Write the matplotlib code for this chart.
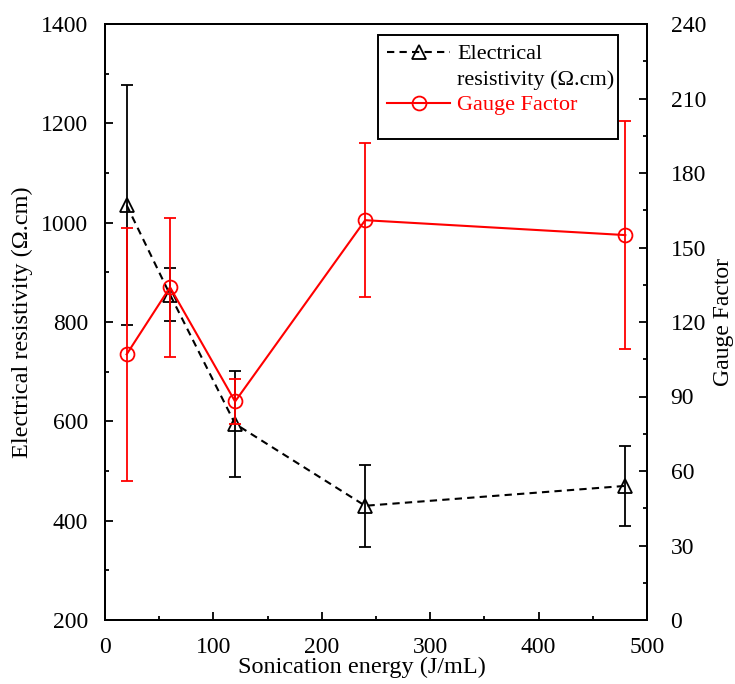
import matplotlib.pyplot as plt
from matplotlib.lines import Line2D
from matplotlib.patches import Rectangle
from matplotlib.ticker import MultipleLocator

plt.rcParams['font.family'] = ['Liberation Serif', 'DejaVu Serif']

# sonication energy (J/mL)
energy = [20, 60, 120, 240, 480]

# electrical resistivity (ohm.cm) with std dev
resistivity = [1035, 855, 595, 430, 470]
resistivity_err = [242, 53, 107, 83, 80]

# gauge factor with std dev
gauge = [107, 134, 88, 161, 155]
gauge_err = [51, 28, 9, 31, 46]

W, H = 735, 684
fig = plt.figure(figsize=(W / 100, H / 100), dpi=100)
ax = fig.add_axes([105 / W, 1 - 620 / H, 542 / W, 596 / H])
ax2 = ax.twinx()

res = ax.errorbar(energy, resistivity, yerr=resistivity_err, color='black',
                  linestyle=(0, (3.5, 2.5)), linewidth=1.5, marker='^',
                  markersize=10, markerfacecolor='none', markeredgewidth=1.3,
                  capsize=4, elinewidth=1.3, capthick=1.3)
gf = ax2.errorbar(energy, gauge, yerr=gauge_err, color='red',
                  linestyle='-', linewidth=1.5, marker='o', markersize=10,
                  markerfacecolor='none', markeredgewidth=1.3, capsize=4,
                  elinewidth=1.3, capthick=1.3)

ax.set_xlim(0, 500)
ax.set_ylim(200, 1400)
ax2.set_ylim(0, 240)

ax.xaxis.set_major_locator(MultipleLocator(100))
ax.xaxis.set_minor_locator(MultipleLocator(50))
ax.yaxis.set_major_locator(MultipleLocator(200))
ax.yaxis.set_minor_locator(MultipleLocator(100))
ax2.yaxis.set_major_locator(MultipleLocator(30))
ax2.yaxis.set_minor_locator(MultipleLocator(15))

for a in (ax, ax2):
    a.tick_params(which='major', direction='in', length=6, width=1.3,
                  labelsize=17)
    a.tick_params(which='minor', direction='in', length=3, width=1.3)
    for s in a.spines.values():
        s.set_linewidth(1.4)
ax.tick_params(axis='y', which='both', right=False, pad=12)
ax.tick_params(axis='x', which='both', top=False, pad=12)
ax2.tick_params(axis='y', pad=17)

ax.set_xlabel('Sonication energy (J/mL)', fontsize=17.5)
ax.xaxis.set_label_coords(0.474, -0.062)
ax.set_ylabel('Electrical resistivity (\u03a9.cm)', fontsize=17.5, labelpad=6)
ax2.set_ylabel('Gauge Factor', fontsize=17, labelpad=5)

# legend: the resistivity label wraps onto a second line
handles = [res.lines[0], Line2D([], [], linestyle='none'), gf.lines[0]]
labels = ['Electrical', 'resistivity (\u03a9.cm)', 'Gauge Factor']
leg = ax2.legend(handles, labels, loc='upper left',
                 bbox_to_anchor=(378 / W, 1 - 35 / H),
                 bbox_transform=fig.transFigure, fontsize=16, frameon=False,
                 borderpad=0.4, handlelength=2.85, handletextpad=0.3,
                 labelspacing=0.22, borderaxespad=0)
leg.get_texts()[2].set_color('red')
fig.add_artist(Rectangle((378 / W, 1 - 139 / H), 240 / W, 104 / H,
                         transform=fig.transFigure, fill=False,
                         edgecolor='black', linewidth=1.4))

fig.savefig('out.png', dpi=100)
